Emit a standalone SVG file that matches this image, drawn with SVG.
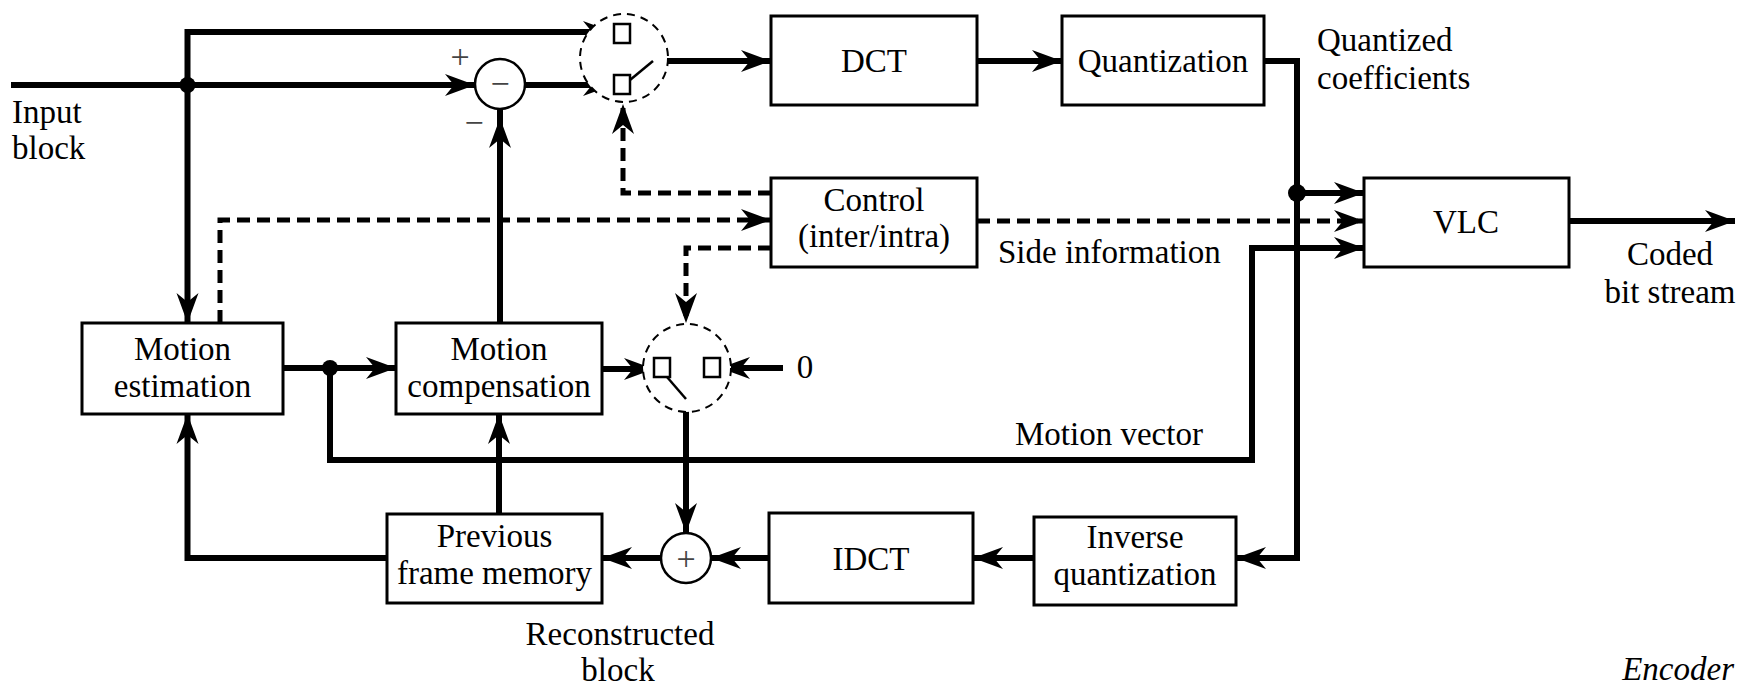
<svg xmlns="http://www.w3.org/2000/svg" width="1751" height="685" viewBox="0 0 1751 685" font-family="'Liberation Serif', 'Times New Roman', serif">
<style>
.box{fill:#fff;stroke:#000;stroke-width:3}
.ln{fill:none;stroke:#000;stroke-width:6}
.dl{fill:none;stroke:#000;stroke-width:5;stroke-dasharray:13 7}
.dc{fill:#fff;stroke:#000;stroke-width:2;stroke-dasharray:8 6}
.ct{fill:#fff;stroke:#000;stroke-width:2.5}
.lv{fill:none;stroke:#000;stroke-width:2.5}
.sum{fill:#fff;stroke:#000;stroke-width:2.5}
text{font-family:'Liberation Serif','Times New Roman',serif}
.t{font-size:33px;fill:#000}
.c{text-anchor:middle}
.sg{font-size:34px;fill:#444;text-anchor:middle}
</style>
<defs>
<marker id="ah" markerUnits="userSpaceOnUse" viewBox="-32 -12 34 24" refX="0" refY="0" markerWidth="34" markerHeight="24" orient="auto">
<path d="M0,0 L-30,-11 L-21,0 L-30,11 Z" fill="#000"/>
</marker>
</defs>
<rect width="1751" height="685" fill="#fff"/>
<g id="connectors">
<path class="ln" d="M11,85 H475" marker-end="url(#ah)"/>
<path class="ln" d="M187.5,85 V32 H613" marker-end="url(#ah)"/>
<path class="ln" d="M187.5,85 V323" marker-end="url(#ah)"/>
<circle cx="187.5" cy="85" r="8" fill="#000"/>
<path class="ln" d="M525,85 H613" marker-end="url(#ah)"/>
<path class="ln" d="M653,61 H771" marker-end="url(#ah)"/>
<path class="ln" d="M977,61 H1062" marker-end="url(#ah)"/>
<path class="ln" d="M1264,61 H1297 V558 H1236" marker-end="url(#ah)"/>
<path class="ln" d="M1297,193 H1364" marker-end="url(#ah)"/>
<circle cx="1297" cy="193" r="9" fill="#000"/>
<path class="ln" d="M1569,221 H1735" marker-end="url(#ah)"/>
<path class="dl" d="M771,193 H623 V104" marker-end="url(#ah)"/>
<path class="dl" d="M220,323 V220 H771" marker-end="url(#ah)"/>
<path class="dl" d="M771,248 H686 V323" marker-end="url(#ah)"/>
<path class="dl" d="M977,221 H1364" marker-end="url(#ah)"/>
<path class="ln" d="M283,368 H396" marker-end="url(#ah)"/>
<path class="ln" d="M330,368 V460 H1252 V248 H1364" marker-end="url(#ah)"/>
<circle cx="330" cy="368" r="8" fill="#000"/>
<path class="ln" d="M500,323 V118" marker-end="url(#ah)"/>
<path class="ln" d="M500,120 V109"/>
<path class="ln" d="M602,369 H654" marker-end="url(#ah)"/>
<path class="ln" d="M783,368 H720" marker-end="url(#ah)"/>
<path class="ln" d="M686,397 V533" marker-end="url(#ah)"/>
<path class="ln" d="M1034,558 H973" marker-end="url(#ah)"/>
<path class="ln" d="M769,558 H711" marker-end="url(#ah)"/>
<path class="ln" d="M661,558 H602" marker-end="url(#ah)"/>
<path class="ln" d="M387,558 H187.5 V414" marker-end="url(#ah)"/>
<path class="ln" d="M499,514 V414" marker-end="url(#ah)"/>
</g>
<g id="subtractor">
<circle class="sum" cx="500" cy="84" r="25"/>
<text class="sg" x="500" y="95">−</text>
<text class="sg" x="460" y="68">+</text>
<text class="sg" x="474" y="134">−</text>
</g>
<g id="switch-top">
<circle class="dc" cx="624" cy="58" r="44"/>
<rect class="ct" x="614" y="24" width="16" height="19"/>
<rect class="ct" x="614" y="75" width="16" height="19"/>
<path class="lv" d="M630,80 L653,61"/>
</g>
<g id="dct"><rect class="box" x="771" y="16" width="206" height="89"/><text class="t c" x="874" y="72">DCT</text></g>
<g id="quantization"><rect class="box" x="1062" y="16" width="202" height="89"/><text class="t c" x="1163" y="72">Quantization</text></g>
<g id="label-quantized"><text class="t" x="1317" y="51">Quantized</text><text class="t" x="1317" y="89">coefficients</text></g>
<g id="control"><rect class="box" x="771" y="178" width="206" height="89"/><text class="t c" x="874" y="211">Control</text><text class="t c" x="874" y="247">(inter/intra)</text></g>
<g id="label-side"><text class="t" x="998" y="263">Side information</text></g>
<g id="vlc"><rect class="box" x="1364" y="178" width="205" height="89"/><text class="t c" x="1466" y="233">VLC</text></g>
<g id="label-coded"><text class="t c" x="1670" y="265">Coded</text><text class="t c" x="1670" y="303">bit stream</text></g>
<g id="label-input"><text class="t" x="12" y="123">Input</text><text class="t" x="12" y="159">block</text></g>
<g id="motion-estimation"><rect class="box" x="82" y="323" width="201" height="91"/><text class="t c" x="182.5" y="360">Motion</text><text class="t c" x="182.5" y="397">estimation</text></g>
<g id="motion-compensation"><rect class="box" x="396" y="323" width="206" height="91"/><text class="t c" x="499" y="360">Motion</text><text class="t c" x="499" y="397">compensation</text></g>
<g id="switch-bottom">
<circle class="dc" cx="687" cy="368" r="44"/>
<rect class="ct" x="654" y="358" width="16" height="19"/>
<rect class="ct" x="704" y="358" width="16" height="19"/>
<path class="lv" d="M667,377 L686,399"/>
</g>
<g id="label-zero"><text class="t c" x="805" y="378">0</text></g>
<g id="label-mv"><text class="t" x="1015" y="445">Motion vector</text></g>
<g id="previous-frame-memory"><rect class="box" x="387" y="514" width="215" height="89"/><text class="t c" x="494.5" y="547">Previous</text><text class="t c" x="494.5" y="584">frame memory</text></g>
<g id="adder"><circle class="sum" cx="686" cy="558" r="25"/><text class="sg" x="686" y="570">+</text></g>
<g id="idct"><rect class="box" x="769" y="513" width="204" height="90"/><text class="t c" x="871" y="570">IDCT</text></g>
<g id="inverse-quantization"><rect class="box" x="1034" y="517" width="202" height="88"/><text class="t c" x="1135" y="548">Inverse</text><text class="t c" x="1135" y="585">quantization</text></g>
<g id="label-reconstructed"><text class="t c" x="620" y="645">Reconstructed</text><text class="t c" x="618" y="681">block</text></g>
<g id="label-encoder"><text class="t" x="1734" y="680" text-anchor="end" font-style="italic">Encoder</text></g>
</svg>
